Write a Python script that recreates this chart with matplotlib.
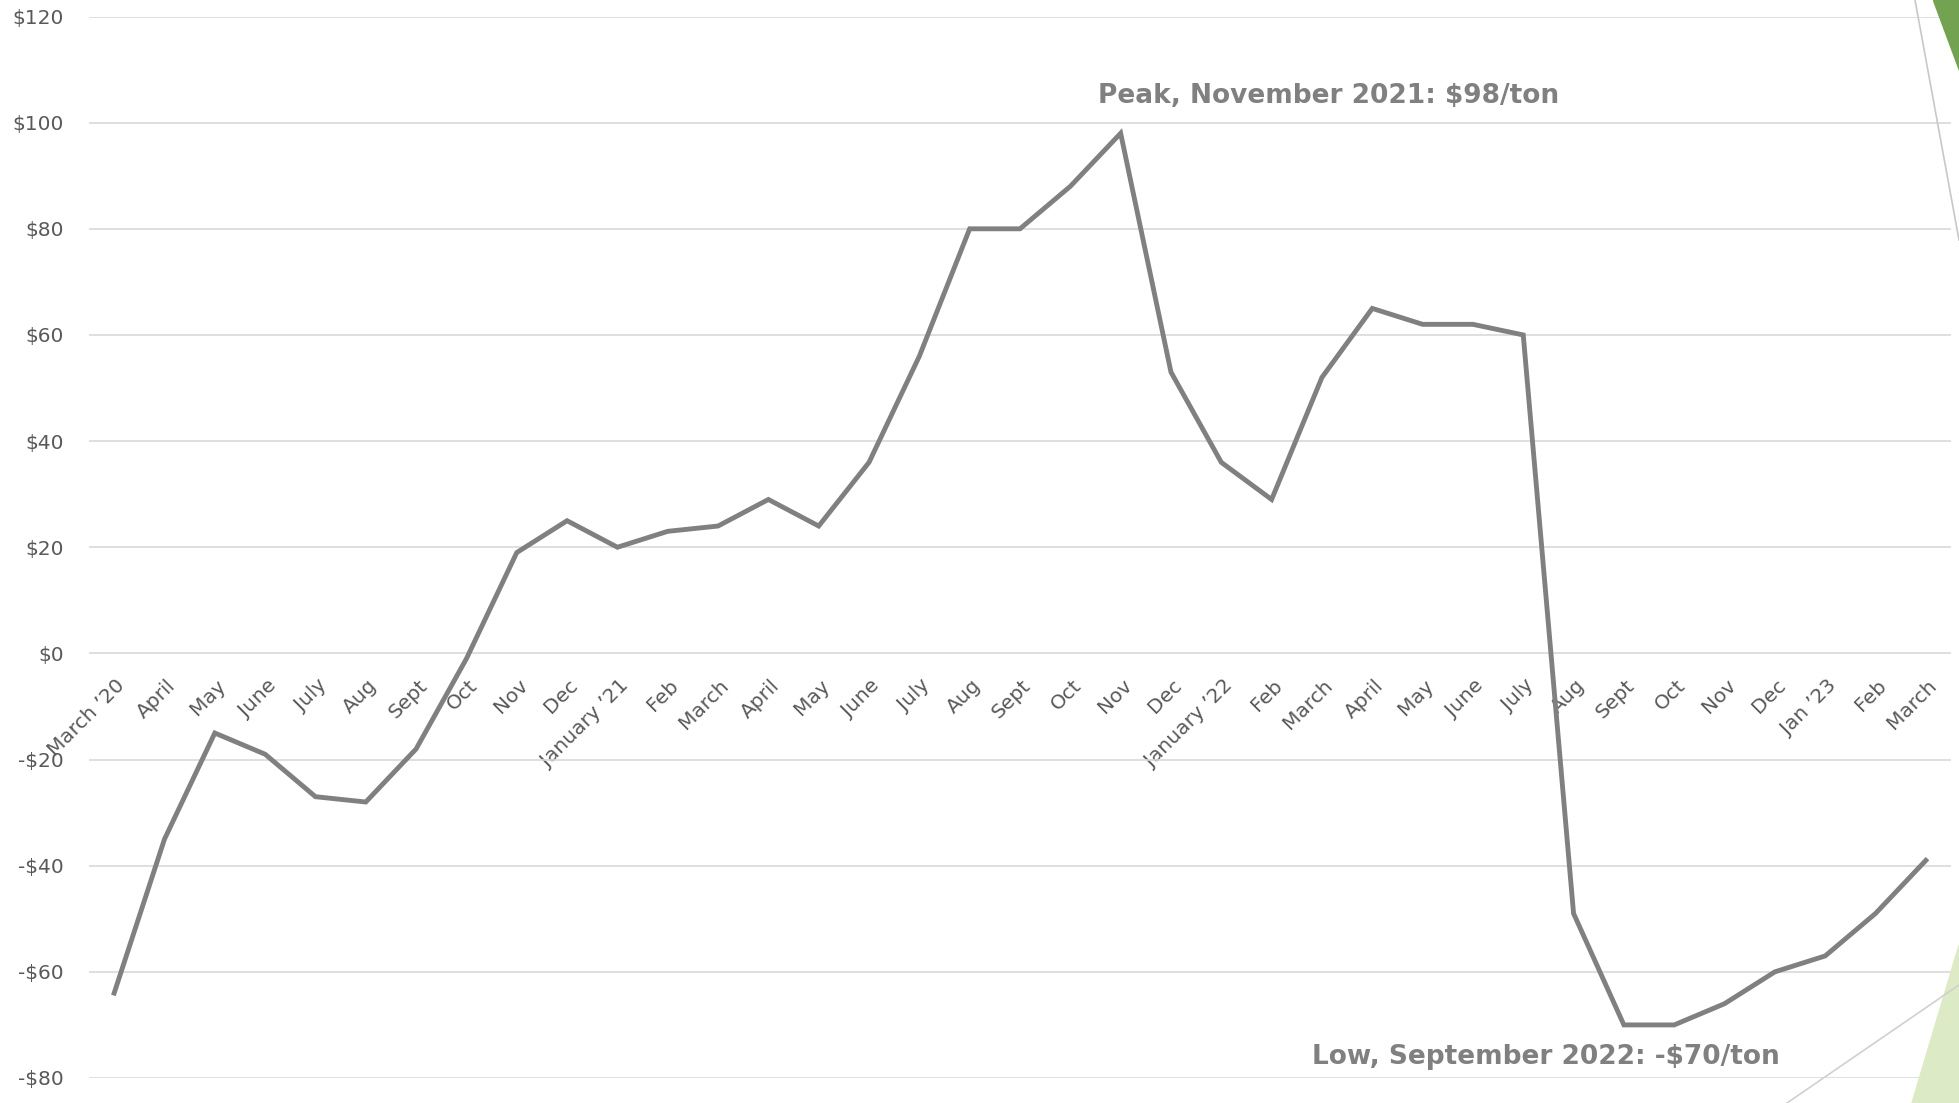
import matplotlib
matplotlib.use("Agg")
import matplotlib.pyplot as plt
from matplotlib.patches import Polygon
from matplotlib.lines import Line2D
from matplotlib.transforms import ScaledTranslation

# monthly values, $/ton
months = ["March \u201920", "April", "May", "June", "July", "Aug", "Sept", "Oct",
          "Nov", "Dec", "January \u201921", "Feb", "March", "April", "May", "June",
          "July", "Aug", "Sept", "Oct", "Nov", "Dec", "January \u201922", "Feb",
          "March", "April", "May", "June", "July", "Aug", "Sept", "Oct", "Nov",
          "Dec", "Jan \u201923", "Feb", "March"]
values = [-64, -35, -15, -19, -27, -28, -18, -1, 19, 25, 20, 23, 24, 29, 24, 36,
          56, 80, 80, 88, 98, 53, 36, 29, 52, 65, 62, 62, 60, -49, -70, -70, -66,
          -60, -57, -49, -39]
yticks = [-80, -60, -40, -20, 0, 20, 40, 60, 80, 100, 120]

W, H = 1959, 1103
fig = plt.figure(figsize=(W / 100, H / 100), dpi=100)
ax = fig.add_axes([89 / W, 1 - 1078 / H, (1951 - 89) / W, (1078 - 16.5) / H])

x = list(range(len(months)))
ax.plot(x, values, color="#808080", lw=3.5, solid_joinstyle="miter", zorder=3)

ax.set_xlim(-0.5, len(months) - 0.5)
ax.set_ylim(-80, 120)
ax.set_yticks(yticks)
ax.set_yticklabels([f"-${-v}" if v < 0 else f"${v}" for v in yticks])
ax.grid(axis="y", color="#d9d9d9", lw=1.2)
ax.set_axisbelow(True)
for s in ax.spines.values():
    s.set_visible(False)
ax.spines["bottom"].set_position(("data", 0))
ax.tick_params(axis="y", length=0, pad=18, labelsize=14.5, labelcolor="#595959")
ax.tick_params(axis="x", length=0, pad=21, labelsize=14.5, labelcolor="#595959")

ax.set_xticks(x)
ax.set_xticklabels(months, rotation=45, ha="right", va="center",
                   rotation_mode="anchor")
shift = ScaledTranslation(8 / 100, 0, fig.dpi_scale_trans)
for lab in ax.get_xticklabels():
    lab.set_transform(lab.get_transform() + shift)
    lab.set_zorder(4)

ax.text(19.55, 105, "Peak, November 2021: $98/ton", ha="left", va="center",
        fontsize=19, fontweight="bold", color="#808080", family="DejaVu Sans")
ax.text(23.8, -76, "Low, September 2022: -$70/ton", ha="left", va="center",
        fontsize=19, fontweight="bold", color="#808080", family="DejaVu Sans")

# slide decorations on the right edge
def px(pts):
    return [(a / W, 1 - b / H) for a, b in pts]

fig.patches.append(Polygon(px([(1933, 0), (W, 0), (W, 70)]), closed=True,
                           transform=fig.transFigure, color="#73a251", zorder=5))
fig.patches.append(Polygon(px([(W, 945), (1912, H), (W, H)]), closed=True,
                           transform=fig.transFigure, color="#dcebc5", zorder=5))
fig.lines.append(Line2D([1915 / W, 1], [1, 1 - 240 / H], transform=fig.transFigure,
                        color="#c8c8c8", lw=1.2, zorder=6))
fig.lines.append(Line2D([1787 / W, 1], [0, 1 - 985 / H], transform=fig.transFigure,
                        color="#d0d0d0", lw=1.2, zorder=6))

fig.savefig("out.png", dpi=100)
